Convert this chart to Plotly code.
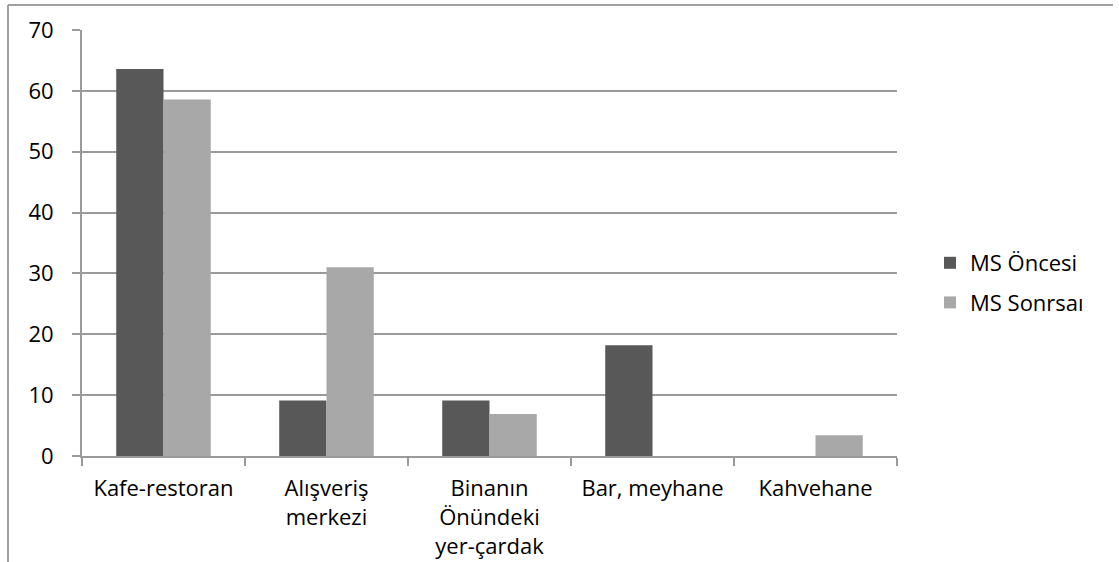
import plotly.graph_objects as go

categories = ["Kafe-restoran", "Alışveriş<br>merkezi", "Binanın<br>Önündeki<br>yer-çardak",
              "Bar, meyhane", "Kahvehane"]
ms_oncesi = [63.6, 9.1, 9.1, 18.2, 0]
ms_sonrasi = [58.6, 31.0, 6.9, 0, 3.4]
y_ticks = [0, 10, 20, 30, 40, 50, 60, 70]

W, H = 1119, 562
L, R, T, B = 82, 222, 30, 106
pw, ph = W - L - R, H - T - B

FONT = "Open Sans"
FS = 22

fig = go.Figure()
fig.add_trace(go.Bar(name="MS Öncesi", x=categories, y=ms_oncesi, legendgroup="a",
                     marker=dict(color="#585858", line=dict(width=0))))
fig.add_trace(go.Bar(name="MS Sonrsaı", x=categories, y=ms_sonrasi, legendgroup="b",
                     marker=dict(color="#a8a8a8", line=dict(width=0))))

def px_x(x):
    return (x - L) / pw

def px_y(y):
    return (H - B - y) / ph

# outer chart frame (top and left edges)
fig.add_shape(type="line", xref="paper", yref="paper",
              x0=px_x(8), x1=px_x(1113), y0=px_y(5), y1=px_y(5),
              line=dict(color="#a0a0a0", width=2))
fig.add_shape(type="line", xref="paper", yref="paper",
              x0=px_x(8), x1=px_x(8), y0=px_y(5), y1=px_y(575),
              line=dict(color="#a0a0a0", width=2))

fig.update_layout(
    width=W, height=H,
    margin=dict(l=L, r=R, t=T, b=B, pad=0, autoexpand=False),
    paper_bgcolor="white", plot_bgcolor="white",
    barmode="group", bargap=0.42, bargroupgap=0,
    font=dict(family=FONT, size=FS, color="black"),
    showlegend=True,
    legend=dict(x=px_x(930), y=px_y(283), xanchor="left", yanchor="middle",
                font=dict(family=FONT, size=FS, color="black"),
                traceorder="grouped", tracegroupgap=8,
                bgcolor="rgba(0,0,0,0)", itemwidth=30),
    xaxis=dict(type="category", showgrid=False, showline=True, automargin=False,
               linecolor="#9a9a9a", linewidth=2,
               ticks="outside", tickson="boundaries", ticklen=8,
               tickcolor="#9a9a9a", tickwidth=2, ticklabelstandoff=12,
               tickfont=dict(family=FONT, size=FS, color="black")),
    yaxis=dict(range=[0, 70], tickvals=y_ticks, showgrid=True, automargin=False,
               gridcolor="#9a9a9a", gridwidth=2,
               showline=True, linecolor="#9a9a9a", linewidth=2,
               ticks="outside", ticklen=8, tickcolor="#9a9a9a", tickwidth=2,
               zeroline=False, ticklabelstandoff=14,
               tickfont=dict(family=FONT, size=FS, color="black")),
)

fig.write_html("out.html")
